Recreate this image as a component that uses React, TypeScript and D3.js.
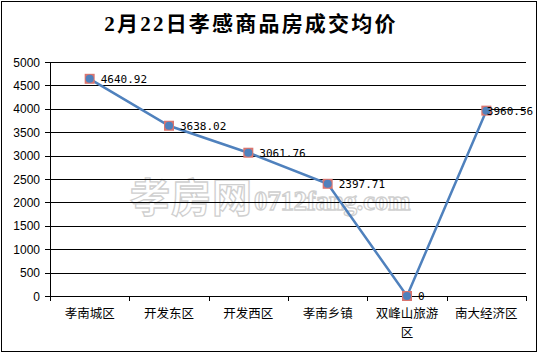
import React from "react";
import * as d3 from "d3";

const categories = ["孝南城区", "开发东区", "开发西区", "孝南乡镇", "双峰山旅游区", "南大经济区"];
const categoryLines = [["孝南城区"], ["开发东区"], ["开发西区"], ["孝南乡镇"], ["双峰山旅游", "区"], ["南大经济区"]];
const values = [4640.92, 3638.02, 3061.76, 2397.71, 0, 3960.56];
const valueLabels = ["4640.92", "3638.02", "3061.76", "2397.71", "0", "3960.56"];
const yTicks = [0, 500, 1000, 1500, 2000, 2500, 3000, 3500, 4000, 4500, 5000];
const title = "2月22日孝感商品房成交均价";

export default function App() {
  const W = 539, H = 354;
  const left = 50, right = 526, top = 62, bottom = 296;
  const x = d3.scaleBand<string>().domain(categories).range([left, right]);
  const y = d3.scaleLinear().domain([0, 5000]).range([bottom, top]);
  const line = d3.line<number>()
    .x((_, i) => (x(categories[i]) as number) + x.bandwidth() / 2)
    .y((d) => y(d));
  const cjk = "'Noto Sans CJK SC', sans-serif";
  const labelW = (s: string) => s.length * 6.6;
  return (
    <svg width={W} height={H} style={{ position: "absolute", left: 0, top: 0, background: "#fff" }}>
      <rect x={1.5} y={1.5} width={W - 4} height={H - 4} fill="#fff" stroke="#000" strokeWidth={1} />
      <text x={251} y={31} textAnchor="middle" fontSize={21} fontWeight="bold" letterSpacing={2.2}
        fontFamily="'Liberation Serif', 'Noto Sans CJK SC', serif" fill="#000">{title}</text>
      <g fill="#fff" stroke="#cfcfcf" strokeWidth={1.3}>
        <text x={130} y={212} fontFamily={cjk} fontSize={40} fontWeight="bold" letterSpacing={1}>孝房网</text>
        <text x={254} y={210} fontSize={27} fontWeight="bold" fontFamily="'Liberation Serif', serif" letterSpacing={-0.3}>0712fang.com</text>
      </g>
      {yTicks.map((t) => (
        <g key={t}>
          <line x1={left} x2={right} y1={Math.round(y(t)) + 0.5} y2={Math.round(y(t)) + 0.5} stroke="#000" />
          <line x1={left - 5} x2={left} y1={Math.round(y(t)) + 0.5} y2={Math.round(y(t)) + 0.5} stroke="#000" />
          <text x={left - 10} y={y(t) + 4.5} textAnchor="end" fontSize={12}
            fontFamily="'Liberation Sans', sans-serif" fill="#000">{t}</text>
        </g>
      ))}
      <line x1={left + 0.5} x2={left + 0.5} y1={top} y2={bottom + 5} stroke="#000" />
      {categories.map((c) => (
        <line key={c} x1={Math.round((x(c) as number) + x.bandwidth()) + 0.5} x2={Math.round((x(c) as number) + x.bandwidth()) + 0.5}
          y1={bottom} y2={bottom + 5} stroke="#000" />
      ))}
      {categories.map((c, i) => (
        <text key={c} x={(x(c) as number) + x.bandwidth() / 2} y={318} textAnchor="middle" fontSize={12.5}
          fontFamily={cjk} fill="#000">
          {categoryLines[i].map((l, j) => (
            <tspan key={j} x={(x(c) as number) + x.bandwidth() / 2} dy={j === 0 ? 0 : 19}>{l}</tspan>
          ))}
        </text>
      ))}
      <path d={line(values) || ""} fill="none" stroke="#4F81BD" strokeWidth={2.5} />
      {values.map((v, i) => {
        const cx = (x(categories[i]) as number) + x.bandwidth() / 2;
        const cy = y(v);
        return (
          <g key={i}>
            <rect x={cx - 5} y={cy - 5} width={10} height={10} fill="#D9756F" />
            <circle cx={cx} cy={cy} r={4} fill="#4F81BD" />
          </g>
        );
      })}
      {values.map((v, i) => {
        const cx = (x(categories[i]) as number) + x.bandwidth() / 2;
        const cy = y(v);
        const lx = Math.min(cx + 11, 533 - labelW(valueLabels[i]));
        return (
          <text key={i} x={lx} y={cy + 4} fontSize={11} fontFamily="'DejaVu Sans Mono', monospace" fill="#000">{valueLabels[i]}</text>
        );
      })}
    </svg>
  );
}
